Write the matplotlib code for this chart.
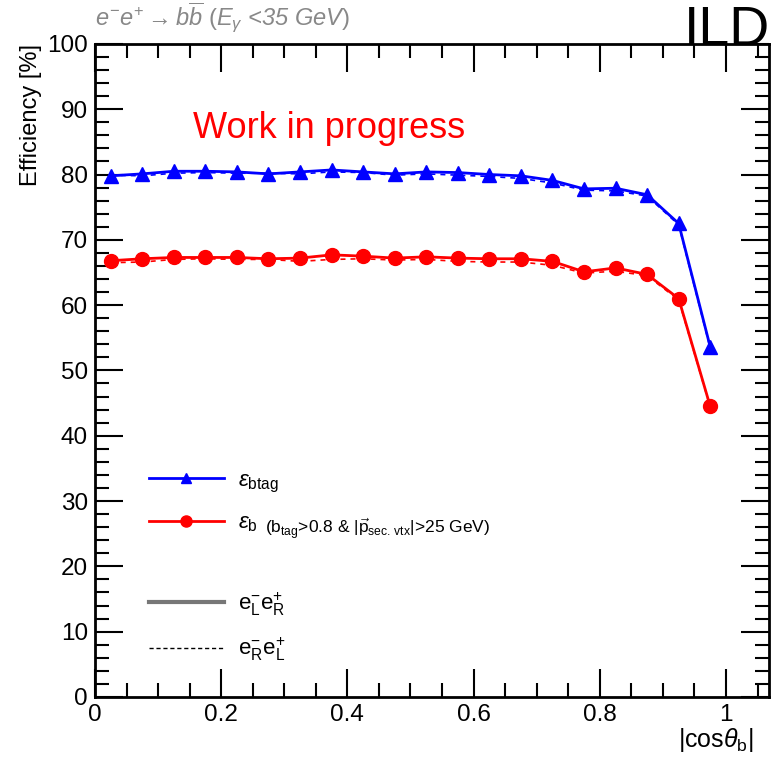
import matplotlib.pyplot as plt
from matplotlib.lines import Line2D
from matplotlib.ticker import MultipleLocator

plt.rcParams['font.family'] = ['Liberation Sans', 'DejaVu Sans']
plt.rcParams['mathtext.fontset'] = 'custom'
plt.rcParams['mathtext.rm'] = 'Liberation Sans'
plt.rcParams['mathtext.it'] = 'Liberation Sans:italic'
plt.rcParams['mathtext.bf'] = 'Liberation Sans:bold'

# |cos theta_b| bin centres
cos_bins = [0.025, 0.075, 0.125, 0.175, 0.225, 0.275, 0.325, 0.375, 0.425, 0.475,
            0.525, 0.575, 0.625, 0.675, 0.725, 0.775, 0.825, 0.875, 0.925, 0.975]

# b-tag efficiency [%], eL- eR+ (solid) and eR- eL+ (dashed)
btag_lr = [79.8, 80.1, 80.5, 80.5, 80.4, 80.1, 80.4, 80.7, 80.4, 80.1,
           80.4, 80.3, 80.0, 79.8, 79.1, 77.8, 77.9, 76.9, 72.5, 53.6]
btag_rl = [79.9, 79.8, 80.2, 80.3, 80.2, 80.2, 80.1, 80.4, 80.3, 79.9,
           80.1, 79.9, 79.7, 79.4, 78.7, 77.6, 77.5, 76.7, 72.3, 53.4]
btag_err = [0.7, 0.7, 0.7, 0.7, 0.7, 0.7, 0.7, 0.7, 0.7, 0.7,
            0.7, 0.7, 0.7, 0.7, 0.7, 0.7, 0.7, 0.7, 0.8, 0.9]

# b efficiency after btag > 0.8 and |p_sec.vtx| > 25 GeV [%]
beff_lr = [66.8, 67.1, 67.3, 67.3, 67.3, 67.1, 67.2, 67.7, 67.5, 67.2,
           67.4, 67.2, 67.1, 67.1, 66.7, 65.1, 65.7, 64.7, 61.0, 44.5]
beff_rl = [66.5, 66.6, 67.0, 67.1, 67.0, 67.0, 66.7, 67.0, 67.1, 66.9,
           67.0, 66.7, 66.6, 66.6, 66.1, 64.9, 65.2, 64.5, 60.8, 44.4]
beff_err = [0.8, 0.8, 0.8, 0.8, 0.8, 0.8, 0.8, 0.8, 0.8, 0.8,
            0.8, 0.8, 0.8, 0.8, 0.8, 0.8, 0.8, 0.8, 0.9, 1.0]

fig = plt.figure(figsize=(7.72, 7.57), dpi=100)
ax = fig.add_axes([0.123, 0.0793, 0.873, 0.8627])

ax.errorbar(cos_bins, btag_lr, yerr=btag_err, color='#0000ff', marker='^',
            markersize=10, lw=2, elinewidth=1.5, capsize=0)
ax.plot(cos_bins, btag_rl, color='#0000ff', lw=1.2, ls=(0, (3, 3)))
ax.errorbar(cos_bins, beff_lr, yerr=beff_err, color='#ff0000', marker='o',
            markersize=10, lw=2, elinewidth=1.5, capsize=0)
ax.plot(cos_bins, beff_rl, color='#ff0000', lw=1.2, ls=(0, (3, 3)))

ax.set_xlim(0, 1.068)
ax.set_ylim(0, 100)
ax.xaxis.set_major_locator(MultipleLocator(0.2))
ax.xaxis.set_minor_locator(MultipleLocator(0.05))
ax.yaxis.set_major_locator(MultipleLocator(10))
ax.yaxis.set_minor_locator(MultipleLocator(2))
ax.xaxis.set_major_formatter(lambda v, p: '0' if v == 0 else ('1' if abs(v - 1) < 1e-9 else f'{v:.1f}'))
ax.tick_params(which='both', direction='in', top=True, right=True, width=1.5,
               labelsize=17.5, pad=5)
ax.tick_params(which='major', length=20)
ax.tick_params(which='minor', length=10)
for s in ax.spines.values():
    s.set_linewidth(2)

ax.set_ylabel('Efficiency [%]', loc='top', fontsize=17, labelpad=4)
ax.set_xlabel(r'|cos$\theta_{\rm b}$|', fontsize=18, ha='right', va='top')
ax.xaxis.set_label_coords(0.977, -0.045)

fig.text(0.123, 0.976, r'$e^{-}e^{+} \rightarrow b\overline{b}\ (E_{\gamma}$ <35 GeV$)$',
         color='#888888', fontsize=17, style='italic', va='center')
fig.text(0.998, 0.9405, 'ILD', fontsize=40, ha='right', va='baseline')
ax.text(0.155, 85.6, 'Work in progress', color='#ff0000', fontsize=26)

handles = [
    Line2D([], [], color='#0000ff', marker='^', markersize=7, lw=2),
    Line2D([], [], color='#ff0000', marker='o', markersize=8, lw=2),
    Line2D([], [], color='none'),
    Line2D([], [], color='#777777', lw=3),
    Line2D([], [], color='black', lw=1, ls=(0, (3, 2))),
]
labels = [r'$\varepsilon_{\rm btag}$', r'$\varepsilon_{\rm b}$', '',
          r'$\rm e^{-}_{L}e^{+}_{R}$', r'$\rm e^{-}_{R}e^{+}_{L}$']
ax.legend(handles, labels, loc='upper left', bbox_to_anchor=(0.05, 0.378),
          frameon=False, fontsize=16, handlelength=3.4, handletextpad=0.6,
          labelspacing=0.8)
ax.text(0.27, 25.6, r'(b$_{\rm tag}$>0.8 & |$\vec{\rm p}_{\rm sec.\,vtx}$|>25 GeV)',
        fontsize=12.5, va='center')

fig.savefig('out.png', dpi=100)
